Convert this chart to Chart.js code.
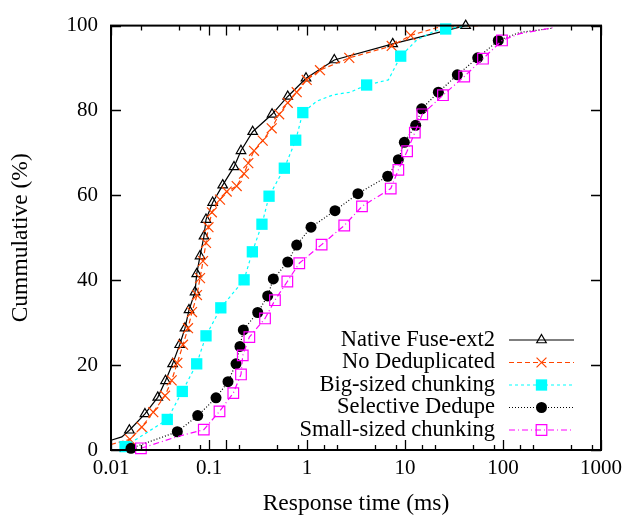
<!DOCTYPE html>
<html>
<head>
<meta charset="utf-8">
<script src="https://cdn.jsdelivr.net/npm/chart.js@4.4.1/dist/chart.umd.min.js"></script>
<style>
  html, body { margin: 0; padding: 0; background: #fff; }
</style>
</head>
<body>
<canvas id="cdf" width="628" height="517"></canvas>
<script>
// marker points: x = response time (ms), y = cumulative %
const nativeX = [0.0154, 0.0222, 0.0300, 0.0360, 0.0425, 0.0502, 0.0569, 0.0625, 0.072, 0.0749, 0.081, 0.0889, 0.0932, 0.109, 0.138, 0.18, 0.212, 0.279, 0.44, 0.636, 0.977, 1.9, 7.49, 41.6];
const nativeY = [4.65, 8.5, 12.4, 16.3, 20.3, 24.8, 28.7, 33, 37.2, 41.5, 45.7, 50.4, 54.3, 58.3, 62.4, 66.7, 70.5, 75, 79.1, 83.3, 87.6, 91.9, 95.7, 100];
// extra points the line passes through without a marker
const nativeLineX = [0.01, 0.0129];
const nativeLineY = [2.3, 3.1];

const noDedupX = [0.0156, 0.0206, 0.027, 0.0356, 0.0416, 0.0475, 0.0543, 0.0611, 0.0671, 0.0754, 0.081, 0.0869, 0.0932, 0.0988, 0.107, 0.1295, 0.1516, 0.1917, 0.2276, 0.2518, 0.2879, 0.3532, 0.4363, 0.52, 0.636, 0.785, 0.993, 1.357, 2.70, 7.32, 11.4];
const noDedupY = [2.5, 5.4, 8.9, 12.8, 16.4, 20.5, 24.8, 28.7, 32.5, 36.5, 40.5, 44.5, 48.8, 52.5, 56, 59, 60.9, 62.2, 65.1, 67.6, 70.5, 72.9, 75.8, 79.1, 81.8, 84.3, 87.2, 89.5, 92.4, 95.2, 97.7];
const noDedupLineX = [0.01, 21, 60];
const noDedupLineY = [1.3, 99.5, 100];

const bigX = [0.0139, 0.0375, 0.0534, 0.0749, 0.0932, 0.132, 0.228, 0.277, 0.347, 0.41, 0.587, 0.767, 0.906, 4.06, 9.04, 26];
const bigY = [0.8, 7.2, 13.8, 20.3, 26.9, 33.5, 40.1, 46.7, 53.2, 59.8, 66.4, 73, 79.5, 86, 92.8, 99.2];
const bigLineX = [1.26, 1.86, 2.75, 6.76, 13.2, 19.5, 45];
const bigLineY = [82.2, 83.7, 84.3, 87.2, 96.6, 98.6, 100];

const selX = [0.016, 0.0475, 0.0767, 0.1179, 0.1563, 0.1886, 0.207, 0.2239, 0.314, 0.397, 0.453, 0.636, 0.785, 1.099, 1.93, 3.31, 6.66, 8.55, 9.84, 12.86, 14.8, 21.9, 34.2, 55.2, 89.5];
const selY = [0.4, 4.3, 8.1, 12.3, 16.1, 20.3, 24.4, 28.3, 32.4, 36.3, 40.3, 44.3, 48.3, 52.5, 56.4, 60.4, 64.5, 68.4, 72.5, 76.5, 80.4, 84.3, 88.4, 92.4, 96.5];
const selLineX = [149, 326];
const selLineY = [98.4, 99.4];

const smallX = [0.0202, 0.0885, 0.128, 0.177, 0.212, 0.221, 0.258, 0.373, 0.471, 0.63, 0.834, 1.41, 2.40, 3.64, 7.15, 8.55, 10.5, 12.6, 15.0, 24.4, 40.2, 62.5, 97.7];
const smallY = [0.4, 4.8, 9.1, 13.4, 17.8, 22.3, 26.6, 31, 35.3, 39.7, 44, 48.4, 52.9, 57.4, 61.6, 66, 70.4, 74.8, 79.1, 83.6, 88, 92.2, 96.5];
const smallLineX = [0.0468, 149, 340];
const smallLineY = [3.1, 98.1, 99.6];

const xTickLabels = ['0.01', '0.1', '1', '10', '100', '1000'];
const yTicks = [0, 20, 40, 60, 80, 100];

const SERIF = '"Liberation Serif", "DejaVu Serif", serif';
const TICK_FONT = { family: SERIF, size: 21 };
const TITLE_FONT = { family: SERIF, size: 23.5 };
const KEY_SIZE = 22.5;

function series(mx, my, lx, ly) {
    const pts = mx.map((x, i) => ({ x: x, y: my[i], m: true }));
    lx.forEach((x, i) => pts.push({ x: x, y: ly[i], m: false }));
    pts.sort((a, b) => a.x - b.x);
    return pts;
}

function makeSet(label, pts, color, dash, style, radius, filled, order) {
    return {
        label: label,
        data: pts,
        borderColor: color,
        borderWidth: 1.2,
        borderDash: dash,
        tension: 0,
        fill: false,
        pointStyle: style,
        markRadius: radius,
        pointRadius: ctx => (ctx.raw && ctx.raw.m ? radius : 0),
        pointHoverRadius: ctx => (ctx.raw && ctx.raw.m ? radius : 0),
        pointBorderColor: color,
        pointBackgroundColor: filled ? color : 'rgba(0,0,0,0)',
        pointBorderWidth: filled ? 0 : 1.2,
        clip: false,
        order: order
    };
}

// frame and inward ticks, mirrored on all four sides
const framePlugin = {
    id: 'frame',
    afterDatasetsDraw(chart) {
        const { ctx, chartArea: a } = chart;
        const xs = chart.scales.x, ys = chart.scales.y;
        ctx.save();
        ctx.strokeStyle = '#000';
        ctx.lineWidth = 1.3;
        ctx.beginPath();
        xs.ticks.forEach(t => {
            const e = Math.floor(Math.log10(t.value) + 1e-9);
            const mant = Math.round(t.value / Math.pow(10, e));
            if ([1, 2, 5, 8].indexOf(mant) < 0) return;
            const len = mant === 1 ? 10 : 5;
            const px = Math.round(xs.getPixelForValue(t.value)) + 0.5;
            ctx.moveTo(px, a.bottom); ctx.lineTo(px, a.bottom - len);
            ctx.moveTo(px, a.top); ctx.lineTo(px, a.top + len);
        });
        ys.ticks.forEach(t => {
            const py = Math.round(ys.getPixelForValue(t.value)) + 0.5;
            ctx.moveTo(a.left, py); ctx.lineTo(a.left + 10, py);
            ctx.moveTo(a.right, py); ctx.lineTo(a.right - 10, py);
        });
        ctx.stroke();
        ctx.lineWidth = 2;
        ctx.strokeRect(a.left, a.top, a.right - a.left, a.bottom - a.top);
        ctx.restore();
    }
};

// gnuplot-like key: text right aligned, line sample with the marker in the middle
const keyPlugin = {
    id: 'key',
    afterDraw(chart) {
        const { ctx, chartArea: a } = chart;
        ctx.save();
        ctx.font = KEY_SIZE + 'px ' + SERIF;
        ctx.textAlign = 'right';
        ctx.textBaseline = 'middle';
        chart.data.datasets.forEach((ds, i) => {
            const y = a.bottom - 110 + i * 22.5;
            ctx.fillStyle = '#000';
            ctx.fillText(ds.label, a.right - 106, y);
            ctx.strokeStyle = ds.borderColor;
            ctx.lineWidth = ds.borderWidth;
            ctx.setLineDash(ds.borderDash);
            ctx.beginPath();
            ctx.moveTo(a.right - 92, y);
            ctx.lineTo(a.right - 27, y);
            ctx.stroke();
            ctx.setLineDash([]);
            ctx.fillStyle = ds.pointBackgroundColor;
            ctx.strokeStyle = ds.pointBorderColor;
            ctx.lineWidth = ds.pointBorderWidth;
            Chart.helpers.drawPoint(ctx, {
                pointStyle: ds.pointStyle,
                radius: ds.markRadius,
                rotation: 0,
                borderWidth: ds.pointBorderWidth
            }, a.right - 59.5, y);
        });
        ctx.restore();
    }
};

new Chart(document.getElementById('cdf'), {
    type: 'line',
    data: {
        datasets: [
            makeSet('Native Fuse-ext2', series(nativeX, nativeY, nativeLineX, nativeLineY), '#000000', [], 'triangle', 5.5, false, 5),
            makeSet('No Deduplicated', series(noDedupX, noDedupY, noDedupLineX, noDedupLineY), '#ff4500', [5, 3], 'crossRot', 7, false, 4),
            makeSet('Big-sized chunking', series(bigX, bigY, bigLineX, bigLineY), '#00ffff', [3, 3], 'rect', 8, true, 3),
            makeSet('Selective Dedupe', series(selX, selY, selLineX, selLineY), '#000000', [1, 2], 'circle', 5.5, true, 2),
            makeSet('Small-sized chunking', series(smallX, smallY, smallLineX, smallLineY), '#ff00ff', [6, 3, 1, 3], 'rect', 7.5, false, 1)
        ]
    },
    options: {
        responsive: false,
        animation: false,
        events: [],
        layout: { padding: { top: 20, right: 27, left: 0, bottom: 0 } },
        plugins: {
            legend: { display: false },
            tooltip: { enabled: false }
        },
        scales: {
            x: {
                type: 'logarithmic',
                min: 0.01,
                max: 1000,
                grid: { display: false, drawTicks: false },
                border: { display: false },
                ticks: {
                    autoSkip: false,
                    maxRotation: 0,
                    padding: 6,
                    color: '#000',
                    font: TICK_FONT,
                    callback: function (v) {
                        const e = Math.log10(v);
                        if (Math.abs(e - Math.round(e)) > 1e-6) return '';
                        return xTickLabels[Math.round(e) + 2];
                    }
                },
                title: { display: true, text: 'Response time (ms)', color: '#000', font: TITLE_FONT, padding: { top: 0, bottom: -1 } },
                afterFit: s => { s.height = 67; }
            },
            y: {
                min: yTicks[0],
                max: yTicks[yTicks.length - 1],
                grid: { display: false, drawTicks: false },
                border: { display: false },
                afterBuildTicks: s => { s.ticks = yTicks.map(v => ({ value: v })); },
                ticks: { padding: 13, color: '#000', font: TICK_FONT },
                title: { display: true, text: 'Cummulative (%)', color: '#000', font: TITLE_FONT, padding: { top: 7, bottom: 0 } },
                afterFit: s => { s.width = 111; }
            }
        }
    },
    plugins: [framePlugin, keyPlugin]
});
</script>
</body>
</html>
